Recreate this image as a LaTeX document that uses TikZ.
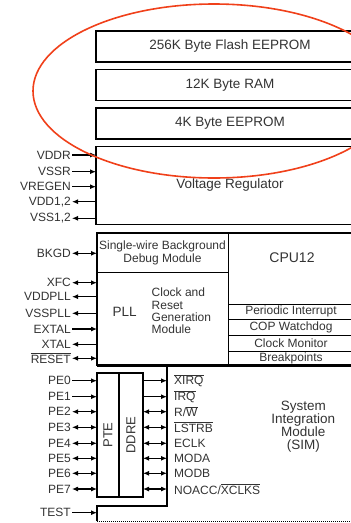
\documentclass[tikz,border=0pt]{standalone}
\usepackage{fontspec}
\setmainfont{Liberation Sans}
\usepackage{tikz}
\usetikzlibrary{arrows.meta,positioning}

\definecolor{txt}{HTML}{333333}
\definecolor{ringred}{HTML}{F0401A}
\newcommand{\barsig}[1]{$\overline{\mbox{#1}}$}

\begin{document}
\begin{tikzpicture}[
    x=1pt, y=-1pt,
    >={Latex[length=6pt,width=5pt]},
    node distance=7.5pt,
    membox/.style={draw, line width=1.6pt, outer sep=0pt, minimum width=268pt, text=txt, font=\fontsize{13.5}{15}\selectfont},
    cell/.style={draw, line width=0.9pt, outer sep=0pt, inner sep=0pt, text=txt, align=center, font=\fontsize{12}{13}\selectfont},
    frame/.style={draw, line width=1.6pt},
    pin/.style={inner sep=1pt, text=txt, font=\fontsize{12}{13}\selectfont},
    wire/.style={line width=1.1pt},
    ring/.style={draw=ringred, line width=1.6pt}
]
\useasboundingbox (0,0) rectangle (351,523);

% memories and regulator
\node[membox, minimum height=31pt] (flash) at (230,46.5) {256K Byte Flash EEPROM};
\node[membox, minimum height=31pt, below=of flash] (ram) {12K Byte RAM};
\node[membox, minimum height=31pt, below=of ram] (eeprom) {4K Byte EEPROM};
\node[membox, minimum height=78pt, below=of eeprom] (reg) {Voltage Regulator};

\node[pin, anchor=east] (vddr) at (72,155) {VDDR};
\node[pin, anchor=east] (vssr) at (72,171.7) {VSSR};
\node[pin, anchor=east] (vregen) at (72,186.7) {VREGEN};
\node[pin, anchor=east] (vdd) at (72,201.7) {VDD1,2};
\node[pin, anchor=east] (vss) at (72,218.3) {VSS1,2};
\draw[wire,->] (vddr.east) -- (vddr.east -| reg.west);
\draw[wire,->] (vssr.east) -- (vssr.east -| reg.west);
\draw[wire,->] (vregen.east) -- (vregen.east -| reg.west);
\draw[wire,<-] (vdd.east) -- (vdd.east -| reg.west);
\draw[wire,<-] (vss.east) -- (vss.east -| reg.west);

% core block
\node[cell, minimum width=131pt, minimum height=39pt] (dbg) at (162.5,252.5) {Single-wire Background\\Debug Module};
\node[cell, minimum width=131pt, minimum height=94pt, below=0pt of dbg] (clkgen) {};
\node[cell, minimum width=126pt, minimum height=71pt] (cpu) at (291,268.5) {};
\node[cell, minimum width=126pt, minimum height=15pt, below=0pt of cpu] (pit) {Periodic Interrupt};
\node[cell, minimum width=126pt, minimum height=16pt, below=0pt of pit] (cop) {COP Watchdog};
\node[cell, minimum width=126pt, minimum height=16pt, below=0pt of cop] (cmon) {Clock Monitor};
\node[cell, minimum width=126pt, minimum height=14pt, below=0pt of cmon] (bkpt) {Breakpoints};
\draw[frame] (dbg.north west) rectangle (bkpt.south east);
\node[text=txt, font=\fontsize{14}{15}\selectfont] (cputxt) at (292,257.3) {CPU12};
\node[text=txt, font=\fontsize{13.5}{15}\selectfont] (plltxt) at (124.7,311.7) {PLL};
\node[pin, anchor=west, align=left, font=\fontsize{12}{12.2}\selectfont] (crgtxt) at (150.5,311) {Clock and\\Reset\\Generation\\Module};

\node[pin, anchor=east] (bkgd) at (72,253.3) {BKGD};
\node[pin, anchor=east] (xfc) at (72,282.7) {XFC};
\node[pin, anchor=east] (vddpll) at (72,296.7) {VDDPLL};
\node[pin, anchor=east] (vsspll) at (72,313.3) {VSSPLL};
\node[pin, anchor=east] (extal) at (72,329) {EXTAL};
\node[pin, anchor=east] (xtal) at (72,344.3) {XTAL};
\node[pin, anchor=east] (reset) at (72,358.3) {\barsig{RESET}};
\draw[wire,<->] (bkgd.east) -- (bkgd.east -| dbg.west);
\draw[wire,<->] (xfc.east) -- (xfc.east -| clkgen.west);
\draw[wire,<-] (vddpll.east) -- (vddpll.east -| clkgen.west);
\draw[wire,<-] (vsspll.east) -- (vsspll.east -| clkgen.west);
\draw[wire,->] (extal.east) -- (extal.east -| clkgen.west);
\draw[wire,<-] (xtal.east) -- (xtal.east -| clkgen.west);
\draw[wire,<->] (reset.east) -- (reset.east -| clkgen.west);

% port E and SIM
\node[cell, minimum width=22pt, minimum height=124pt, line width=1.3pt] (pte) at (108,435) {};
\node[cell, minimum width=24pt, minimum height=124pt, line width=1.3pt, right=0pt of pte] (ddre) {};
\node[text=txt, rotate=90, font=\fontsize{13}{14}\selectfont] (ptetxt) at (pte) {PTE};
\node[text=txt, rotate=90, font=\fontsize{13}{14}\selectfont] (ddretxt) at (ddre) {DDRE};
\coordinate (simw) at (167,366);
\draw[frame] (354,366) -| (167,506) -| (97,521);
\draw[line width=1pt, densely dotted] (97,521.5) -- (360,521.5);
\node[text=txt, align=center, font=\fontsize{13.5}{13.3}\selectfont] (sim) at (303.3,426.7) {System\\Integration\\Module\\(SIM)};

\node[pin, anchor=east] (pe0) at (72,380.7) {PE0};
\node[pin, anchor=east] (pe1) at (72,396.7) {PE1};
\node[pin, anchor=east] (pe2) at (72,411.7) {PE2};
\node[pin, anchor=east] (pe3) at (72,427.3) {PE3};
\node[pin, anchor=east] (pe4) at (72,443.3) {PE4};
\node[pin, anchor=east] (pe5) at (72,458.3) {PE5};
\node[pin, anchor=east] (pe6) at (72,473.3) {PE6};
\node[pin, anchor=east] (pe7) at (72,489) {PE7};
\draw[wire,->] (pe0.east) -- (pe0.east -| pte.west);
\draw[wire,->] (pe1.east) -- (pe1.east -| pte.west);
\draw[wire,<->] (pe2.east) -- (pe2.east -| pte.west);
\draw[wire,<->] (pe3.east) -- (pe3.east -| pte.west);
\draw[wire,<->] (pe4.east) -- (pe4.east -| pte.west);
\draw[wire,<->] (pe5.east) -- (pe5.east -| pte.west);
\draw[wire,<->] (pe6.east) -- (pe6.east -| pte.west);
\draw[wire,<->] (pe7.east) -- (pe7.east -| pte.west);

\node[pin, anchor=west] (xirq) at (173,380.7) {\barsig{XIRQ}};
\node[pin, anchor=west] (irq) at (173,396.7) {\barsig{IRQ}};
\node[pin, anchor=west] (rw) at (173,411.7) {R/\barsig{W}};
\node[pin, anchor=west] (lstrb) at (173,427.3) {\barsig{LSTRB}};
\node[pin, anchor=west] (eclk) at (173,443.3) {ECLK};
\node[pin, anchor=west] (moda) at (173,458.3) {MODA};
\node[pin, anchor=west] (modb) at (173,473.3) {MODB};
\node[pin, anchor=west] (noacc) at (173,489) {NOACC/\barsig{XCLKS}};
\draw[wire,->] (xirq.west -| ddre.east) -- (xirq.west -| simw);
\draw[wire,->] (irq.west -| ddre.east) -- (irq.west -| simw);
\draw[wire,<->] (rw.west -| ddre.east) -- (rw.west -| simw);
\draw[wire,<->] (lstrb.west -| ddre.east) -- (lstrb.west -| simw);
\draw[wire,<->] (eclk.west -| ddre.east) -- (eclk.west -| simw);
\draw[wire,<->] (moda.west -| ddre.east) -- (moda.west -| simw);
\draw[wire,<->] (modb.west -| ddre.east) -- (modb.west -| simw);
\draw[wire,<->] (noacc.west -| ddre.east) -- (noacc.west -| simw);

\node[pin, anchor=east] (test) at (72,512.7) {TEST};
\draw[wire,->] (test.east) -- (test.east -| 97,0);

% highlight of the memories
\draw[ring] (214,91) ellipse [x radius=181, y radius=87];
\end{tikzpicture}
\end{document}
